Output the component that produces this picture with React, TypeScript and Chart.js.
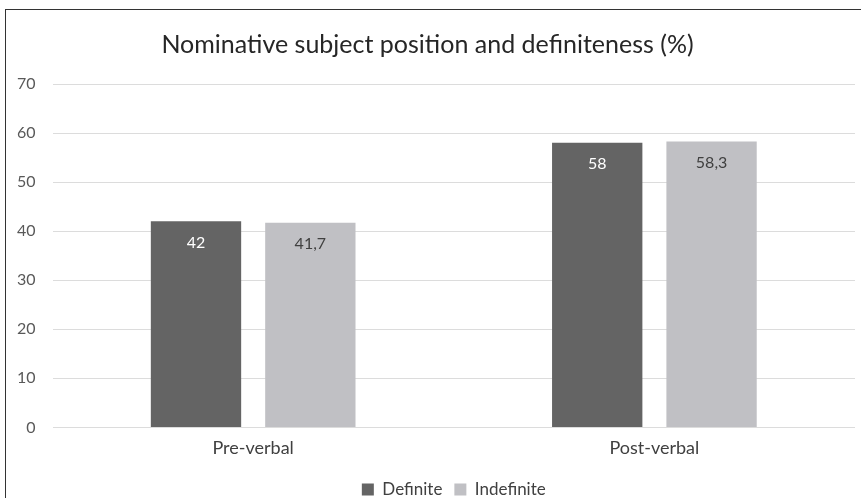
import React, { useEffect, useRef } from "react";
import { Chart, registerables } from "chart.js";

Chart.register(...registerables);

const TITLE = "Nominative subject position and definiteness (%)";
const categories = ["Pre-verbal", "Post-verbal"];
const seriesNames = ["Definite", "Indefinite"];
const definiteValues = [42, 58];
const indefiniteValues = [41.7, 58.3];
const yTicks = [0, 10, 20, 30, 40, 50, 60, 70];

const DARK = "#646464";
const LIGHT = "#c0c0c4";
const FONT = "Lato, 'Open Sans', sans-serif";

const labelPlugin = {
  id: "barValueLabels",
  afterDatasetsDraw(chart: any) {
    const ctx = chart.ctx;
    ctx.save();
    ctx.font = `16px ${FONT}`;
    ctx.textAlign = "center";
    ctx.textBaseline = "middle";
    chart.data.datasets.forEach((ds: any, di: number) => {
      const meta = chart.getDatasetMeta(di);
      meta.data.forEach((el: any, i: number) => {
        const v = ds.data[i];
        ctx.fillStyle = di === 0 ? "#ffffff" : "#404040";
        ctx.fillText(String(v).replace(".", ","), el.x, el.y + 21);
      });
    });
    ctx.restore();
  },
};

export default function App() {
  const ref = useRef<HTMLCanvasElement | null>(null);

  useEffect(() => {
    document.body.style.margin = "0";
    if (!ref.current) return;
    const chart = new Chart(ref.current, {
      type: "bar",
      data: {
        labels: categories,
        datasets: [
          {
            label: seriesNames[0],
            data: definiteValues,
            backgroundColor: DARK,
            categoryPercentage: 0.57,
            barPercentage: 0.79,
          },
          {
            label: seriesNames[1],
            data: indefiniteValues,
            backgroundColor: LIGHT,
            categoryPercentage: 0.57,
            barPercentage: 0.79,
          },
        ],
      },
      options: {
        animation: false,
        responsive: true,
        maintainAspectRatio: false,
        layout: { padding: { left: 0, right: 6, top: 30, bottom: -10 } },
        plugins: {
          title: {
            display: true,
            text: TITLE,
            color: "#262626",
            font: { family: FONT, size: 25, weight: "normal" },
            padding: { top: 0, bottom: 24 },
          },
          legend: {
            position: "bottom",
            fullSize: false,
            labels: {
              boxWidth: 12,
              boxHeight: 12,
              padding: 12,
              color: "#404040",
              font: { family: FONT, size: 17 },
            },
          },
          tooltip: { enabled: false },
        },
        scales: {
          x: {
            grid: { display: false, drawTicks: false },
            border: { display: false },
            ticks: {
              color: "#404040",
              font: { family: FONT, size: 18 },
              padding: 10,
            },
          },
          y: {
            min: 0,
            max: 70,
            afterBuildTicks(axis: any) {
              axis.ticks = yTicks.map((v) => ({ value: v }));
            },
            grid: { color: "#dcdcdc", drawTicks: false, lineWidth: 1 },
            border: { display: false },
            ticks: {
              color: "#595959",
              font: { family: FONT, size: 16 },
              padding: 17,
            },
          },
        },
      },
      plugins: [labelPlugin],
    });
    return () => chart.destroy();
  }, []);

  return (
    <div style={{ position: "relative", width: 861, height: 498, background: "#fff", overflow: "hidden" }}>
      <canvas ref={ref} />
      <div
        style={{
          position: "absolute",
          left: 5,
          top: 9,
          right: 0,
          bottom: 0,
          borderTop: "1px solid #333",
          borderLeft: "1px solid #333",
          pointerEvents: "none",
        }}
      />
    </div>
  );
}
